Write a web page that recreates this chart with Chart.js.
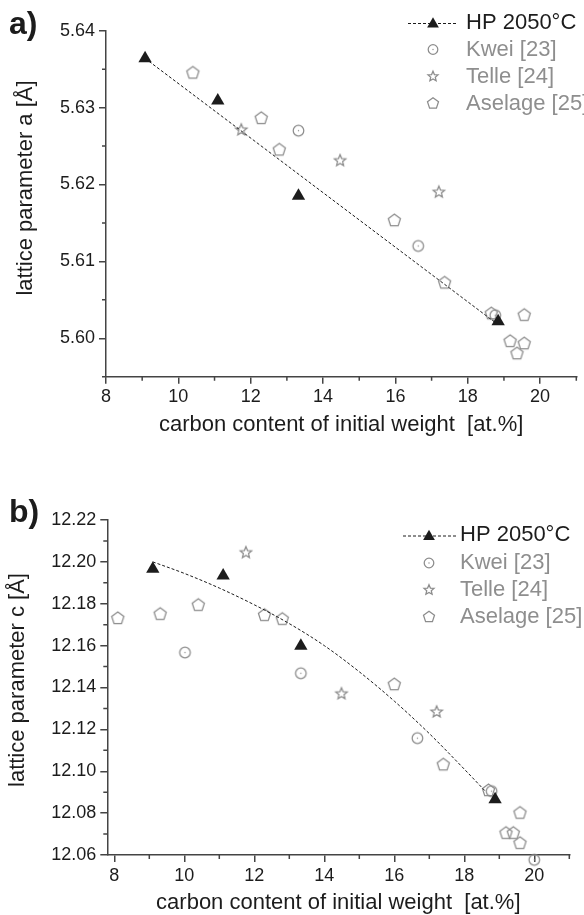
<!DOCTYPE html>
<html>
<head>
<meta charset="utf-8">
<script src="https://cdn.jsdelivr.net/npm/chart.js@4.4.1/dist/chart.umd.min.js"></script>
<style>
  body { margin: 0; background: #fff; }
  canvas { position: absolute; left: 0; }
  #chartA { top: 0; }
  #chartB { top: 460px; }
</style>
</head>
<body>
<canvas id="chartA" width="584" height="445"></canvas>
<canvas id="chartB" width="584" height="455"></canvas>
<script>
// ---- tick labels ----
const xTicks = [8, 10, 12, 14, 16, 18, 20];
const xMinor = [9, 11, 13, 15, 17, 19, 21];
const aTicks = [5.60, 5.61, 5.62, 5.63, 5.64];
const aMinor = [5.595, 5.605, 5.615, 5.625, 5.635];
const cTicks = [12.06, 12.08, 12.10, 12.12, 12.14, 12.16, 12.18, 12.20, 12.22];
const cMinor = [12.07, 12.09, 12.11, 12.13, 12.15, 12.17, 12.19, 12.21];

const seriesNames = ['HP 2050°C', 'Kwei [23]', 'Telle [24]', 'Aselage [25]'];

// ---- panel a: lattice parameter a ----
const hpAX = [9.08, 11.09, 13.32, 18.84];
const hpA = [5.6364, 5.6309, 5.6185, 5.6022];
const fitAX = [9.08, 18.80];
const fitA = [5.6364, 5.6019];
const kweiAX = [13.32, 16.63, 18.76];
const kweiA = [5.6270, 5.6120, 5.6030];
const telleAX = [11.74, 14.47, 17.20];
const telleA = [5.6271, 5.6231, 5.6190];
const aselageAX = [10.40, 12.29, 12.79, 15.97, 17.36, 18.65, 19.56, 19.17, 19.56, 19.36];
const aselageA = [5.6345, 5.6286, 5.6245, 5.6153, 5.6072, 5.6032, 5.6030, 5.5996, 5.5993, 5.5980];

// ---- panel b: lattice parameter c ----
const hpCX = [9.10, 11.11, 13.33, 18.88];
const hpC = [12.1966, 12.1934, 12.1599, 12.0865];
const fitCX = [9.1, 10, 11, 12, 13, 14, 15, 16, 17, 18, 18.6];
const fitC = [12.2000, 12.1945, 12.1875, 12.1795, 12.1705, 12.1600, 12.1475, 12.1335, 12.1180, 12.1010, 12.0905];
const kweiCX = [10.02, 13.33, 16.66, 18.78, 20.00];
const kweiC = [12.1567, 12.1468, 12.1158, 12.0905, 12.0577];
const telleCX = [11.76, 14.49, 17.21];
const telleC = [12.2044, 12.1370, 12.1283];
const aselageCX = [8.10, 9.31, 10.40, 12.29, 12.80, 16.00, 17.40, 18.69, 19.59, 19.19, 19.40, 19.59];
const aselageC = [12.1730, 12.1750, 12.1793, 12.1745, 12.1726, 12.1414, 12.1031, 12.0908, 12.0800, 12.0704, 12.0704, 12.0656];

const INK = '#1c1c1c';
const AXIS = '#444';
const GRAY = '#8c8c8c';
const FONT = '"Liberation Sans", Arial, Helvetica, sans-serif';

const zip = (xs, ys) => xs.map((x, i) => ({ x: x, y: ys[i] }));

// marker shapes
function pathTriangle(ctx, x, y, r) {
    ctx.beginPath();
    ctx.moveTo(x, y - r);
    ctx.lineTo(x + 0.866 * r, y + 0.5 * r);
    ctx.lineTo(x - 0.866 * r, y + 0.5 * r);
    ctx.closePath();
}
function pathStar(ctx, x, y, r) {
    ctx.beginPath();
    for (let i = 0; i < 10; i++) {
        const rad = i % 2 ? r * 0.45 : r;
        const ang = -Math.PI / 2 + i * Math.PI / 5;
        const px = x + rad * Math.cos(ang), py = y + rad * Math.sin(ang);
        if (i) ctx.lineTo(px, py); else ctx.moveTo(px, py);
    }
    ctx.closePath();
}
function pathPentagon(ctx, x, y, r) {
    ctx.beginPath();
    for (let i = 0; i < 5; i++) {
        const ang = -Math.PI / 2 + i * 2 * Math.PI / 5;
        const px = x + r * Math.cos(ang), py = y + r * Math.sin(ang);
        if (i) ctx.lineTo(px, py); else ctx.moveTo(px, py);
    }
    ctx.closePath();
}
function drawShape(ctx, kind, x, y, r) {
    ctx.save();
    if (kind === 'triangle') {
        ctx.fillStyle = INK;
        pathTriangle(ctx, x, y, r);
        ctx.fill();
    } else {
        ctx.strokeStyle = GRAY;
        ctx.fillStyle = GRAY;
        ctx.lineWidth = 1.25;
        if (kind === 'circle') {
            ctx.beginPath();
            ctx.arc(x, y, r, 0, Math.PI * 2);
            ctx.stroke();
            ctx.beginPath();
            ctx.arc(x, y, 0.7, 0, Math.PI * 2);
            ctx.fill();
        } else if (kind === 'star') {
            pathStar(ctx, x, y, r);
            ctx.stroke();
        } else {
            pathPentagon(ctx, x, y, r);
            ctx.stroke();
        }
    }
    ctx.restore();
}
function makeMarker(kind, r) {
    const c = document.createElement('canvas');
    const s = Math.ceil(2 * r + 4);
    c.width = s; c.height = s;
    drawShape(c.getContext('2d'), kind, s / 2, s / 2, r);
    return c;
}
const circleMark = makeMarker('circle', 5.3);
const starMark = makeMarker('star', 6);
const pentaMark = makeMarker('pentagon', 6.4);

// minor ticks, panel letter, rotated y title and legend
const decor = {
    id: 'decor',
    afterDraw(chart, args, o) {
        const { ctx, chartArea, scales } = chart;
        ctx.save();
        ctx.strokeStyle = AXIS;
        ctx.lineWidth = 1.5;
        ctx.beginPath();
        o.xMinor.forEach(v => {
            const px = scales.x.getPixelForValue(v);
            ctx.moveTo(px, chartArea.bottom);
            ctx.lineTo(px, chartArea.bottom + 4);
        });
        o.yMinor.forEach(v => {
            const py = scales.y.getPixelForValue(v);
            ctx.moveTo(chartArea.left, py);
            ctx.lineTo(chartArea.left - 4, py);
        });
        ctx.stroke();

        ctx.fillStyle = INK;
        ctx.font = 'bold 32px ' + FONT;
        ctx.textBaseline = 'alphabetic';
        ctx.textAlign = 'left';
        ctx.fillText(o.panel, o.panelX, o.panelY);

        ctx.save();
        ctx.translate(o.yTitleX, o.yTitleY);
        ctx.rotate(-Math.PI / 2);
        ctx.font = '22px ' + FONT;
        ctx.textAlign = 'center';
        ctx.textBaseline = 'middle';
        ctx.fillStyle = INK;
        ctx.fillText(o.yTitle, 0, 0);
        ctx.restore();

        const L = o.legend;
        ctx.font = '22px ' + FONT;
        ctx.textBaseline = 'middle';
        ctx.textAlign = 'left';
        const kinds = ['triangle', 'circle', 'star', 'pentagon'];
        const sizes = [6.8, 4.8, 5.3, 5.8];
        seriesNames.forEach((name, i) => {
            const y = L.rows[i];
            if (i === 0) {
                ctx.save();
                ctx.strokeStyle = INK;
                ctx.lineWidth = 1;
                ctx.setLineDash([3, 2]);
                ctx.beginPath();
                ctx.moveTo(L.lineX1, y + 1);
                ctx.lineTo(L.lineX2, y + 1);
                ctx.stroke();
                ctx.restore();
            }
            drawShape(ctx, kinds[i], L.symX, y + (i === 0 ? 1.5 : 0), sizes[i]);
            ctx.fillStyle = i === 0 ? INK : '#8e8e8e';
            ctx.fillText(name, L.textX, y);
        });
        ctx.restore();
    }
};

function scatterSet(data, style, radius) {
    return {
        data: data,
        showLine: false,
        pointStyle: style,
        pointRadius: radius,
        pointBackgroundColor: INK,
        pointBorderWidth: 0,
        clip: false
    };
}

function makeChart(id, p) {
    return new Chart(document.getElementById(id), {
        type: 'scatter',
        data: {
            datasets: [
                scatterSet(zip(p.hpX, p.hp), 'triangle', 7.7),
                {
                    data: zip(p.fitX, p.fit),
                    showLine: true,
                    pointRadius: 0,
                    borderColor: INK,
                    borderWidth: 1,
                    borderDash: [3, 2],
                    cubicInterpolationMode: 'monotone',
                    clip: false
                },
                scatterSet(zip(p.kweiX, p.kwei), circleMark, 6),
                scatterSet(zip(p.telleX, p.telle), starMark, 6),
                scatterSet(zip(p.aselageX, p.aselage), pentaMark, 6)
            ]
        },
        options: {
            responsive: false,
            animation: false,
            devicePixelRatio: 1,
            layout: { padding: p.padding },
            plugins: {
                legend: { display: false },
                tooltip: { enabled: false },
                decor: p.decor
            },
            scales: {
                x: {
                    type: 'linear',
                    min: p.xMin,
                    max: 21,
                    afterBuildTicks: s => { s.ticks = xTicks.map(v => ({ value: v })); },
                    afterFit: s => { s.height = p.xAxisH; },
                    border: { display: true, color: AXIS, width: 1.5 },
                    grid: { drawOnChartArea: false, drawTicks: true, tickLength: 7, color: AXIS, lineWidth: 1.5 },
                    ticks: { color: INK, font: { family: FONT, size: 18 }, padding: 3, maxRotation: 0, callback: v => String(v) },
                    title: {
                        display: true,
                        text: 'carbon content of initial weight  [at.%]',
                        color: INK,
                        font: { family: FONT, size: 22, lineHeight: 1.1 },
                        padding: 0
                    }
                },
                y: {
                    type: 'linear',
                    min: p.yMin,
                    max: p.yMax,
                    afterBuildTicks: s => { s.ticks = p.yTicks.map(v => ({ value: v })); },
                    afterFit: s => { s.width = p.yAxisW; },
                    border: { display: true, color: AXIS, width: 1.5 },
                    grid: { drawOnChartArea: false, drawTicks: true, tickLength: 7, color: AXIS, lineWidth: 1.5 },
                    ticks: { color: INK, font: { family: FONT, size: 18 }, padding: 4, callback: v => v.toFixed(2) }
                }
            }
        },
        plugins: [decor]
    });
}

makeChart('chartA', {
    hpX: hpAX, hp: hpA, fitX: fitAX, fit: fitA,
    kweiX: kweiAX, kwei: kweiA, telleX: telleAX, telle: telleA,
    aselageX: aselageAX, aselage: aselageA,
    xMin: 8, yMin: 5.595, yMax: 5.64, yTicks: aTicks,
    padding: { left: 0, right: 1.5, top: 30.7, bottom: 7.9 },
    xAxisH: 60.4, yAxisW: 106,
    decor: {
        xMinor: xMinor, yMinor: aMinor,
        panel: 'a)', panelX: 9, panelY: 34,
        yTitle: 'lattice parameter a [Å]', yTitleX: 26, yTitleY: 188,
        legend: { symX: 433, lineX1: 408, lineX2: 458, textX: 466, rows: [22.5, 49.5, 76.5, 103.5] }
    }
});

makeChart('chartB', {
    hpX: hpCX, hp: hpC, fitX: fitCX, fit: fitC,
    kweiX: kweiCX, kwei: kweiC, telleX: telleCX, telle: telleC,
    aselageX: aselageCX, aselage: aselageC,
    xMin: 7.8, yMin: 12.06, yMax: 12.22, yTicks: cTicks,
    padding: { left: 0, right: 14.7, top: 60, bottom: 0 },
    xAxisH: 60, yAxisW: 107.3,
    decor: {
        xMinor: xMinor, yMinor: cMinor,
        panel: 'b)', panelX: 9, panelY: 62,
        yTitle: 'lattice parameter c [Å]', yTitleX: 18, yTitleY: 220,
        legend: { symX: 429, lineX1: 403, lineX2: 456, textX: 460, rows: [75, 103, 130, 157] }
    }
});
</script>
</body>
</html>
